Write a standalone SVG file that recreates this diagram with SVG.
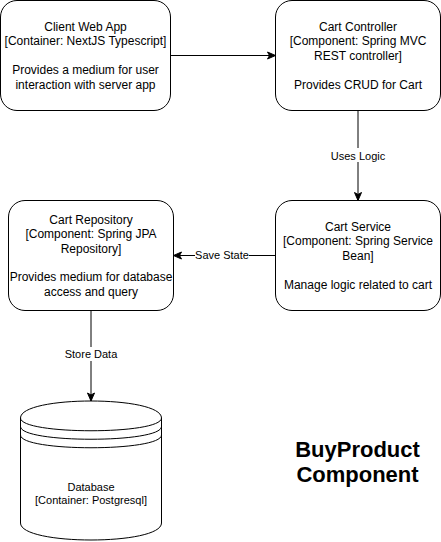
<svg xmlns="http://www.w3.org/2000/svg" width="441" height="542" viewBox="0 0 441 542">
<style>
.box{fill:#ffffff;stroke:#000000;stroke-width:1}
.t{font-family:"Liberation Sans",Arial,sans-serif;font-size:12px;fill:#000000;text-anchor:middle}
.lbl{font-family:"Liberation Sans",Arial,sans-serif;font-size:11px;fill:#000000;text-anchor:middle}
.ttl{font-family:"Liberation Sans",Arial,sans-serif;font-size:22px;font-weight:bold;fill:#000000;text-anchor:middle}
.edge{fill:none;stroke:#000000;stroke-width:1}
.lbg{fill:#ffffff;stroke:none}
</style>
<defs>
<marker id="arrow" markerUnits="userSpaceOnUse" viewBox="-9 -5 10 10" refX="0" refY="0" markerWidth="10" markerHeight="10" orient="auto">
<path d="M0,0 L-8,-3.5 L-6,0 L-8,3.5 Z" fill="#000000" stroke="#000000" stroke-width="1"/>
</marker>
</defs>
<rect x="0" y="0" width="441" height="542" fill="#ffffff"/>

<g id="connectors">
<path class="edge" d="M170.5,55.5 L275.5,55.5" marker-end="url(#arrow)"/>
<path class="edge" d="M358,110.5 L358,200.5" marker-end="url(#arrow)"/>
<rect class="lbg" x="330" y="148" width="56" height="14"/>
<text class="lbl" x="358" y="159.5">Uses Logic</text>
<path class="edge" d="M275.5,255.5 L173.5,255.5" marker-end="url(#arrow)"/>
<rect class="lbg" x="195" y="248.5" width="54" height="14"/>
<text class="lbl" x="222" y="259.3">Save State</text>
<path class="edge" d="M91,310.5 L91,401" marker-end="url(#arrow)"/>
<rect class="lbg" x="65" y="347" width="52" height="14"/>
<text class="lbl" x="91" y="357.8">Store Data</text>
</g>

<g id="client-web-app">
<rect class="box" x="0.5" y="0.5" width="170" height="110" rx="16.5" ry="16.5"/>
<text class="t" x="85.5" y="30.9">Client Web App</text>
<text class="t" x="85.5" y="45.3">[Container: NextJS Typescript]</text>
<text class="t" x="85.5" y="74.1">Provides a medium for user</text>
<text class="t" x="85.5" y="88.5">interaction with server app</text>
</g>

<g id="cart-controller">
<rect class="box" x="275.5" y="0.5" width="165" height="110" rx="16.5" ry="16.5"/>
<text class="t" x="358" y="30.9">Cart Controller</text>
<text class="t" x="358" y="45.3">[Component: Spring MVC</text>
<text class="t" x="358" y="59.7">REST controller]</text>
<text class="t" x="358" y="88.5">Provides CRUD for Cart</text>
</g>

<g id="cart-service">
<rect class="box" x="275.5" y="200.5" width="165" height="110" rx="16.5" ry="16.5"/>
<text class="t" x="358" y="230.9">Cart Service</text>
<text class="t" x="358" y="245.3">[Component: Spring Service</text>
<text class="t" x="358" y="259.7">Bean]</text>
<text class="t" x="358" y="288.5">Manage logic related to cart</text>
</g>

<g id="cart-repository">
<rect class="box" x="8.5" y="200.5" width="165" height="110" rx="16.5" ry="16.5"/>
<text class="t" x="91" y="223.7">Cart Repository</text>
<text class="t" x="91" y="238.1">[Component: Spring JPA</text>
<text class="t" x="91" y="252.5">Repository]</text>
<text class="t" x="91" y="281.3">Provides medium for database</text>
<text class="t" x="91" y="295.7">access and query</text>
</g>

<g id="database">
<path class="box" d="M20.5,418 C20.5,395.33 161.5,395.33 161.5,418 L161.5,523 C161.5,545.67 20.5,545.67 20.5,523 Z"/>
<path class="edge" d="M20.5,418 C20.5,435 161.5,435 161.5,418"/>
<path class="edge" d="M20.5,426.5 C20.5,443.5 161.5,443.5 161.5,426.5"/>
<path class="edge" d="M20.5,435 C20.5,452 161.5,452 161.5,435"/>
<text class="lbl" x="91" y="490.5">Database</text>
<text class="lbl" x="91" y="503.5">[Container: Postgresql]</text>
</g>

<g id="title">
<text class="ttl" x="357.5" y="457">BuyProduct</text>
<text class="ttl" x="357.5" y="481.5">Component</text>
</g>
</svg>
